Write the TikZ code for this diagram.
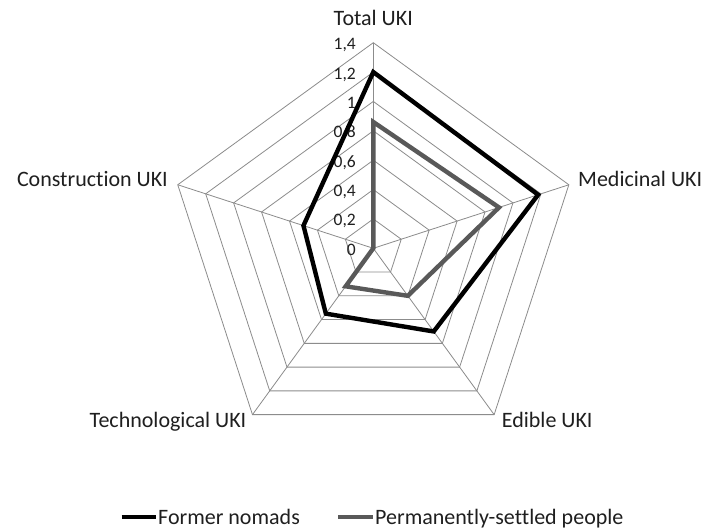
\documentclass[tikz,border=0pt]{standalone}
\usepackage{fontspec}
\setmainfont{Carlito}[Ligatures=NoCommon]
\usetikzlibrary{calc}
\begin{document}
\begin{tikzpicture}[x=1pt,y=1pt,
  grid/.style={draw=gray!90, line width=0.8pt},
  nomads/.style={draw=black, line width=4.4pt, line join=miter},
  settled/.style={draw=black!65, line width=4.4pt, line join=miter},
  axlabel/.style={inner sep=0pt, font=\fontsize{22}{26}\selectfont, text=black!88},
  ticklabel/.style={inner sep=0pt, anchor=base east, font=\fontsize{17.5}{20}\selectfont, text=black!88},
  legtext/.style={inner sep=0pt, anchor=base west, font=\fontsize{22}{26}\selectfont, text=black!88}]
\useasboundingbox (0,0) rectangle (706,528);
\fill[white] (0,0) rectangle (706,528);
\coordinate (O) at (373.3,279.7);
\def\u{146.86}
% grid rings
\foreach \k in {1,...,7}{
  \draw[grid] ($(O)+(90:\k*0.2*\u)$) -- ($(O)+(18:\k*0.2*\u)$) -- ($(O)+(-54:\k*0.2*\u)$) -- ($(O)+(-126:\k*0.2*\u)$) -- ($(O)+(162:\k*0.2*\u)$) -- cycle;
}
% spokes
\foreach \a/\n in {90/vT,18/vM,-54/vE,-126/vTe,162/vC}{
  \coordinate (\n) at ($(O)+(\a:1.4*\u)$);
  \draw[grid] (O) -- (\n);
}
% tick labels
\foreach \v/\t in {0/0,0.2/{0,2},0.4/{0,4},0.6/{0,6},0.8/{0,8},1/1,1.2/{1,2},1.4/{1,4}}{
  \node[ticklabel] at ($(O)+(356-373.3,\v*\u-7)$) {\t};
}
% data: former nomads
\coordinate (f1) at ($(O)+(90:1.20*\u)$);
\coordinate (f2) at ($(O)+(18:1.18*\u)$);
\coordinate (f3) at ($(O)+(-54:0.70*\u)$);
\coordinate (f4) at ($(O)+(-126:0.55*\u)$);
\coordinate (f5) at ($(O)+(162:0.50*\u)$);
\draw[nomads] (f1) -- (f2) -- (f3) -- (f4) -- (f5) -- cycle;
% data: permanently-settled
\coordinate (s1) at ($(O)+(90:0.86*\u)$);
\coordinate (s2) at ($(O)+(18:0.90*\u)$);
\coordinate (s3) at ($(O)+(-54:0.40*\u)$);
\coordinate (s4) at ($(O)+(-126:0.32*\u)$);
\coordinate (s5) at (O);
\draw[settled] (s1) -- (s2) -- (s3) -- (s4) -- (s5) -- cycle;
% axis labels
\node[axlabel, anchor=base] (lT) at (373.3,502) {Total UKI};
\node[axlabel, anchor=base west] (lM) at (578,341.3) {Medicinal UKI};
\node[axlabel, anchor=base west] (lE) at (501.7,100.5) {Edible UKI};
\node[axlabel, anchor=base east] (lTe) at (246.5,100.5) {Technological UKI};
\node[axlabel, anchor=base east] (lC) at (168,341.3) {Construction UKI};
% legend
\coordinate (la1) at (121.7,11.3);
\coordinate (la2) at (155.5,11.3);
\draw[nomads] (la1) -- (la2);
\node[legtext] (lg1) at (158,4) {Former nomads};
\coordinate (lb1) at (338,11.3);
\coordinate (lb2) at (372.5,11.3);
\draw[settled] (lb1) -- (lb2);
\node[legtext] (lg2) at (375,4) {Permanently-settled people};
\end{tikzpicture}
\end{document}
